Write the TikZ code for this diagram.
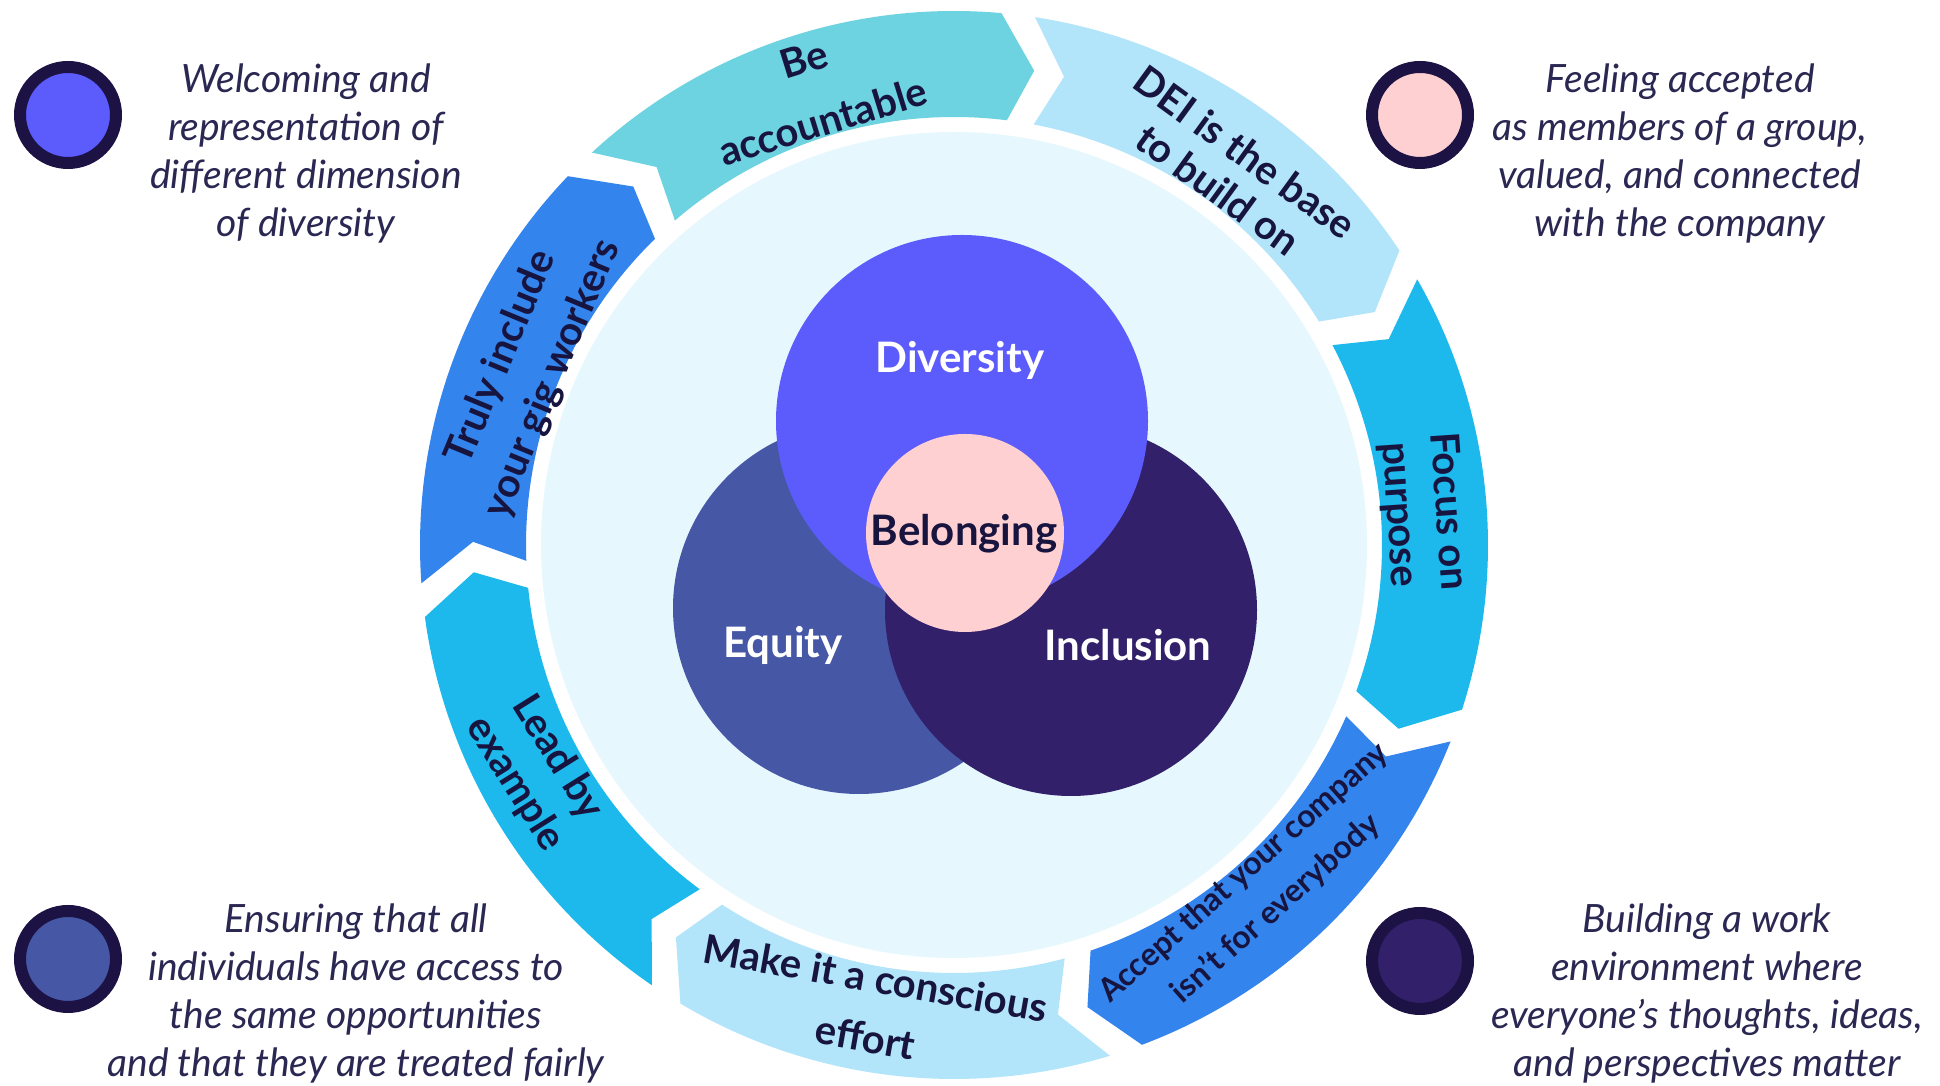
\documentclass[tikz,border=0pt]{standalone}
\usepackage{fontspec}
\setmainfont{Lato}
\definecolor{ringteal}{HTML}{6ED3E0}
\definecolor{ringlight}{HTML}{B2E4FA}
\definecolor{ringcyan}{HTML}{1DB9EC}
\definecolor{ringblue}{HTML}{3384EC}
\definecolor{discfill}{HTML}{E6F8FD}
\definecolor{divcol}{HTML}{5C5CFC}
\definecolor{eqcol}{HTML}{4557A5}
\definecolor{inccol}{HTML}{32206A}
\definecolor{belcol}{HTML}{FFD0D2}
\definecolor{dotborder}{HTML}{1C1243}
\definecolor{labeltext}{HTML}{17153F}
\definecolor{sidetextc}{HTML}{2A2852}
\newcommand{\ringseg}[3]{%
  \fill[#3] ({#1+1}:534) arc[start angle={#1+1}, end angle={#2+1}, radius=534]
    -- ({#2-3.5}:481) -- ({#2-1}:428)
    arc[start angle={#2-1}, end angle={#1-1}, radius=428]
    -- ({#1-3.5}:481) -- cycle;}
\tikzset{
  seglabel/.style={text=labeltext, align=center, inner sep=0pt},
  vennlabel/.style={font=\fontsize{21}{25}\selectfont\bfseries, inner sep=0pt},
  sidetext/.style={font=\fontsize{19.5}{24}\selectfont\itshape, text=sidetextc, align=center, inner sep=0pt},
  keydot/.style={circle, draw=dotborder, line width=6pt, minimum size=48pt, inner sep=0pt}
}
\begin{document}
\begin{tikzpicture}[x=0.5pt,y=0.5pt]
\useasboundingbox (0,0) rectangle (1940,1086);
\fill[white] (0,0) rectangle (1940,1086);
\begin{scope}[shift={(954,541)}]
  \fill[discfill] (0,0) circle[radius=413];
  \ringseg{131.7}{83.9}{ringteal}
  \ringseg{80.27}{32.47}{ringlight}
  \ringseg{28.84}{-18.96}{ringcyan}
  \ringseg{-22.59}{-70.39}{ringblue}
  \ringseg{-74.02}{-121.82}{ringlight}
  \ringseg{-125.45}{-173.25}{ringcyan}
  \ringseg{-176.88}{-224.68}{ringblue}
  \node[seglabel, font=\fontsize{20}{32.5}\selectfont\bfseries, rotate=17.2] (be) at (107.2:476) {Be\\accountable};
  \node[seglabel, font=\fontsize{20}{23}\selectfont\bfseries, rotate=-36] (dei) at (53.4:466) {DEI is the base\\to build on};
  \node[seglabel, font=\fontsize{20}{24.5}\selectfont\bfseries, rotate=-86.1] (focus) at (3.9:470) {Focus on\\purpose};
  \node[seglabel, font=\fontsize{16}{24}\selectfont\bfseries, rotate=41.5] (accept) at (-48.5:462) {Accept that your company\\isn't for everybody};
  \node[seglabel, font=\fontsize{20}{30}\selectfont\bfseries, rotate=-10] (make) at (-100.2:470) {Make it a conscious\\effort};
  \node[seglabel, font=\fontsize{20}{25}\selectfont\bfseries, rotate=-58] (lead) at (-151.6:475) {Lead by\\example};
  \node[seglabel, font=\fontsize{20}{27.5}\selectfont\bfseries, rotate=67.5] (truly) at (157.5:462) {Truly include\\your gig workers};
\end{scope}
% Venn
\fill[eqcol] (859,478) circle[radius=186];
\fill[inccol] (1071,476) circle[radius=186];
\fill[divcol] (962,665) circle[radius=186];
\fill[belcol] (965,553) circle[radius=99];
\node[vennlabel, text=white] (diversity) at (960,726) {Diversity};
\node[vennlabel, text=white] (equity) at (783,441) {Equity};
\node[vennlabel, text=white] (inclusion) at (1128,441) {Inclusion};
\node[vennlabel, text=labeltext] (belonging) at (964,552) {Belonging};
% key dots
\node[keydot, fill=divcol] (dotTL) at (68,971) {};
\node[keydot, fill=belcol] (dotTR) at (1420,971) {};
\node[keydot, fill=eqcol] (dotBL) at (68,127) {};
\node[keydot, fill=inccol] (dotBR) at (1420,125) {};
% side texts
\node[sidetext] (txtTL) at (306,933) {Welcoming and\\representation of\\different dimension\\of diversity};
\node[sidetext] (txtTR) at (1680,933) {Feeling accepted\\as members of a group,\\valued, and connected\\with the company};
\node[sidetext] (txtBL) at (356,93) {Ensuring that all\\individuals have access to\\the same opportunities\\and that they are treated fairly};
\node[sidetext] (txtBR) at (1707,93) {Building a work\\environment where\\everyone's thoughts, ideas,\\and perspectives matter};
\end{tikzpicture}
\end{document}
